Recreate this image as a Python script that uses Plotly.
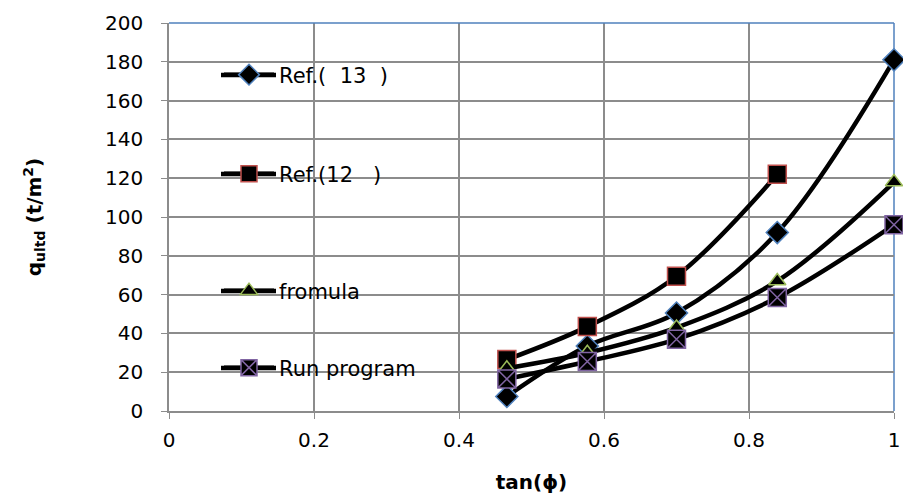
import plotly.graph_objects as go

x_vals = [0.466, 0.577, 0.700, 0.839, 1.0]
ref13 = [7.5, 33.5, 50.5, 92, 181]
ref12 = [26.5, 43.5, 69.5, 122]
fromula = [22, 30, 43, 67, 118]
run_prog = [16.5, 25.5, 37, 58.5, 96]

names = ["Ref.(\u00a0\u00a013\u00a0\u00a0)", "Ref.(12\u00a0\u00a0\u00a0)", "fromula", "Run program"]
FONT = "DejaVu Sans"
FS = 20
LFS = 21

fig = go.Figure()

def add(xs, ys, name, symbol, size, lcol, legend, lw=1.5):
    fig.add_trace(go.Scatter(
        x=xs, y=ys, name=name, mode="lines+markers",
        line=dict(color="black", width=4.5, shape="spline", smoothing=1),
        marker=dict(symbol=symbol, size=size, color="black", line=dict(color=lcol, width=lw)),
        cliponaxis=False, legend=legend))

add(x_vals, ref13, names[0], "diamond", 17, "#4F81BD", "legend")
add(x_vals[:4], ref12, names[1], "square", 18, "#C0504D", "legend2")
add(x_vals, fromula, names[2], "triangle-up", 15, "#9BBB59", "legend3")
add(x_vals, run_prog, names[3], "square-x", 18, "#8064A2", "legend4")

leg_y = [75, 174, 291, 368]

def leg(ypix):
    return dict(x=(219 - 169) / 725, y=(411 - ypix) / 388, xanchor="left", yanchor="middle",
                bgcolor="rgba(0,0,0,0)", font=dict(family=FONT, size=LFS, color="black"),
                itemwidth=50)

shapes = [
    dict(type="line", xref="paper", yref="paper", x0=0, x1=1, y0=1, y1=1, line=dict(color="#4F81BD", width=1.5), layer="above"),
    dict(type="line", xref="paper", yref="paper", x0=1, x1=1, y0=0, y1=1, line=dict(color="#4F81BD", width=1.5), layer="below"),
]
for yp in leg_y:
    shapes.append(dict(type="line", xref="paper", yref="paper",
                       x0=(221 - 169) / 725, x1=(276 - 169) / 725,
                       y0=(411 - yp) / 388, y1=(411 - yp) / 388,
                       line=dict(color="black", width=4.5), layer="above"))

fig.update_layout(
    width=903, height=501,
    margin=dict(l=169, r=9, t=23, b=90, autoexpand=False),
    paper_bgcolor="white", plot_bgcolor="white",
    font=dict(family=FONT, size=FS, color="black"),
    showlegend=True,
    legend=leg(leg_y[0]), legend2=leg(leg_y[1]), legend3=leg(leg_y[2]), legend4=leg(leg_y[3]),
    xaxis=dict(range=[0, 1], tickvals=[0, 0.2, 0.4, 0.6, 0.8, 1],
               ticktext=["0", "0.2", "0.4", "0.6", "0.8", "1"],
               showgrid=True, gridcolor="#8C8C8C", gridwidth=1.5,
               showline=True, linecolor="#8C8C8C", linewidth=1.5,
               ticks="outside", ticklen=6, tickcolor="#8C8C8C", zeroline=False,
               ticklabelstandoff=4, automargin=False,
               title=dict(text="<b>tan(ϕ)</b>", font=dict(family=FONT, size=FS), standoff=24)),
    yaxis=dict(range=[0, 200], dtick=20,
               showgrid=True, gridcolor="#8C8C8C", gridwidth=1.5,
               showline=True, linecolor="#8C8C8C", linewidth=1.5,
               ticks="outside", ticklen=6, tickcolor="#8C8C8C", zeroline=False,
               ticklabelstandoff=14, automargin=False,
               title=dict(text="<b>q<sub>ultd</sub> (t/m<sup>2</sup>)</b>", font=dict(family=FONT, size=FS), standoff=58)),
    shapes=shapes,
)

fig.write_html("out.html")
